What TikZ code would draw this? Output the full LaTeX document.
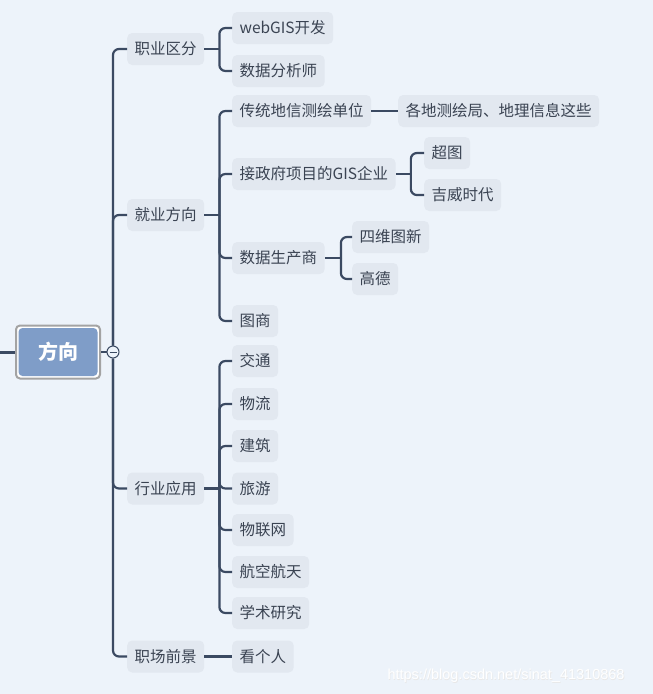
\documentclass[tikz,border=0pt]{standalone}
\usepackage{fontspec}
\newfontfamily\cjk{Noto Sans CJK SC}
\newfontfamily\markfont{Liberation Sans}
\definecolor{bgcol}{HTML}{EDF3FA}
\definecolor{nodecol}{HTML}{E2E8F0}
\definecolor{txtcol}{HTML}{3A4352}
\definecolor{linecol}{HTML}{3B4A62}
\definecolor{rootcol}{HTML}{7F9DC8}
\definecolor{rootrim}{HTML}{A3A3A3}
\tikzset{
  topic/.style={fill=nodecol, rounded corners=5pt, text=txtcol,
    font=\cjk\fontsize{15.5}{18}\selectfont, minimum height=32pt,
    inner xsep=7.5pt, anchor=west},
  link/.style={draw=linecol, line width=2.2pt, rounded corners=6pt},
}

\begin{document}
\begin{tikzpicture}[x=1pt,y=-1pt]
                \fill[bgcol] (0,0) rectangle (653,694);
                \useasboundingbox (0,0) rectangle (653,694);
                % central topic
                \node[draw=rootrim, line width=2pt, fill=white, rounded corners=4pt,
                      minimum width=84pt, minimum height=53pt] (rim) at (58,352) {};
                \node[fill=rootcol, rounded corners=4pt, minimum width=79pt, minimum height=48pt,
                      text=white, font=\cjk\bfseries\fontsize{20}{22}\selectfont] (root) at (58,352) {方向};
                \coordinate (stub) at (0,352);
                \node[circle, draw=linecol, fill=bgcol, line width=1pt, minimum size=12pt, inner sep=0pt,
                      path picture={\draw[linecol, line width=1pt] (path picture bounding box.center) ++(-3.5pt,0) -- ++(7pt,0);}] (fold) at (113,352) {};
                % first level
                \node[topic] (job)      at (127,49)  {职业区分};
                \node[topic] (employ)   at (127,215) {就业方向};
                \node[topic] (industry) at (127,488.5) {行业应用};
                \node[topic] (prospect) at (127,656.5) {职场前景};
                % second level
                \node[topic] (webgis)   at (232,28)  {webGIS开发};
                \node[topic] (analyst)  at (232,71)  {数据分析师};
                \node[topic] (survey)   at (232,111) {传统地信测绘单位};
                \node[topic] (govgis)   at (232,174) {接政府项目的GIS企业};
                \node[topic] (producer) at (232,258) {数据生产商};
                \node[topic] (mapfirm)  at (232,321) {图商};
                \node[topic] (traffic)  at (232,361) {交通};
                \node[topic] (logistics) at (232,404) {物流};
                \node[topic] (building) at (232,446) {建筑};
                \node[topic] (tourism)  at (232,488.5) {旅游};
                \node[topic] (iot)      at (232,530) {物联网};
                \node[topic] (aero)     at (232,572) {航空航天};
                \node[topic] (research) at (232,613) {学术研究};
                \node[topic] (person)   at (232,656.5) {看个人};
                % third level
                \node[topic] (bureau)   at (398,111) {各地测绘局、地理信息这些};
                \node[topic] (supermap) at (424,153) {超图};
                \node[topic] (geoway)   at (424,195) {吉威时代};
                \node[topic] (navinfo)  at (352,237) {四维图新};
                \node[topic] (amap)     at (352,279) {高德};
                % connectors
                \draw[link, line width=3pt] (stub) -- (rim.west);
                \draw[link] (rim.east) -- (fold.west);
                \draw[link] (fold.north) |- (job.west);
                \draw[link] (fold.north) |- (employ.west);
                \draw[link] (fold.south) |- (industry.west);
                \draw[link] (fold.south) |- (prospect.west);
                \draw[link] (job.east) -- ++(15,0) coordinate (jobfork);
                \draw[link] (jobfork) |- (webgis.west);
                \draw[link] (jobfork) |- (analyst.west);
                \draw[link] (employ.east) -- ++(15,0) coordinate (employfork);
                \foreach \kid in {survey,govgis,producer,mapfirm}
                    \draw[link] (employfork) |- (\kid.west);
                \draw[link] (industry.east) -- ++(15,0) coordinate (industryfork);
                \foreach \kid in {traffic,logistics,building,tourism,iot,aero,research}
                    \draw[link] (industryfork) |- (\kid.west);
                \draw[link] (prospect.east) -- (person.west);
                \draw[link] (survey.east) -- (bureau.west);
                \draw[link] (govgis.east) -- ++(15,0) coordinate (govfork);
                \draw[link] (govfork) |- (supermap.west);
                \draw[link] (govfork) |- (geoway.west);
                \draw[link] (producer.east) -- ++(16,0) coordinate (prodfork);
                \draw[link] (prodfork) |- (navinfo.west);
                \draw[link] (prodfork) |- (amap.west);
                % watermark
                \node[anchor=west, font=\markfont\fontsize{14.5}{16}\selectfont, text=black!9] (markshade) at (384.6,676.6) {https://blog.csdn.net/sinat\_41310868};
                \node[anchor=west, font=\markfont\fontsize{14.5}{16}\selectfont, text=white] (mark) at (384,676) {https://blog.csdn.net/sinat\_41310868};
\end{tikzpicture}
\end{document}
